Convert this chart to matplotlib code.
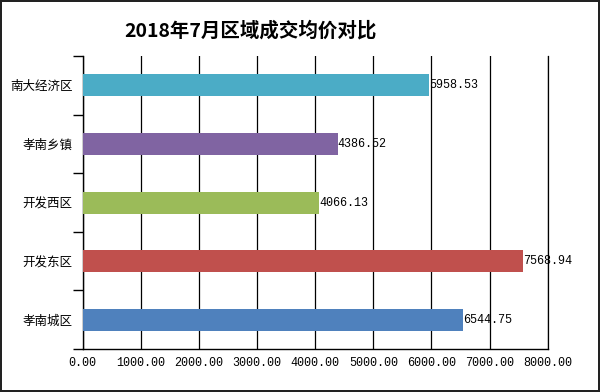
import matplotlib.pyplot as plt
from matplotlib.ticker import FixedLocator

plt.rcParams['font.family'] = ['Noto Sans CJK SC', 'DejaVu Sans']

# Data (bottom to top)
regions = ['孝南城区', '开发东区', '开发西区', '孝南乡镇', '南大经济区']
prices = [6544.75, 7568.94, 4066.13, 4386.52, 5958.53]
colors = ['#4F81BD', '#C0504D', '#9BBB59', '#8064A2', '#4BACC6']
xticks = [0, 1000, 2000, 3000, 4000, 5000, 6000, 7000, 8000]

fig = plt.figure(figsize=(6, 3.92), dpi=100, linewidth=1.5, edgecolor='#222222')
ax = fig.add_axes([0.1375, 0.1097, 0.7753, 0.7473])

ypos = list(range(len(regions)))
ax.barh(ypos, prices, height=0.375, color=colors, zorder=3)

for y, v in zip(ypos, prices):
    ax.text(v, y, f'{v:.2f}', va='center', ha='left', fontsize=8.5,
            family='Liberation Mono', zorder=4)

ax.set_xlim(0, 8000)
ax.set_ylim(-0.5, len(regions) - 0.5)
ax.set_xticks(xticks)
ax.set_xticklabels([f'{t:.2f}' for t in xticks], family='Liberation Mono', fontsize=8.5)
ax.set_yticks(ypos)
ax.set_yticklabels(regions, fontsize=9)
ax.yaxis.set_minor_locator(FixedLocator([y - 0.5 for y in range(len(regions) + 1)]))
ax.tick_params(axis='y', which='major', length=0, pad=7)
ax.tick_params(axis='y', which='minor', length=7, width=1, direction='out')
ax.tick_params(axis='x', length=0, pad=6)

ax.grid(axis='x', color='black', linewidth=0.9, zorder=0)
ax.spines['top'].set_visible(False)
ax.spines['right'].set_linewidth(0.9)
ax.spines['left'].set_linewidth(1)
ax.spines['bottom'].set_linewidth(1)

fig.text(0.417, 0.923, '2018年7月区域成交均价对比', ha='center', va='center',
         fontsize=14, fontweight='bold')

fig.savefig('out.png', dpi=100)
